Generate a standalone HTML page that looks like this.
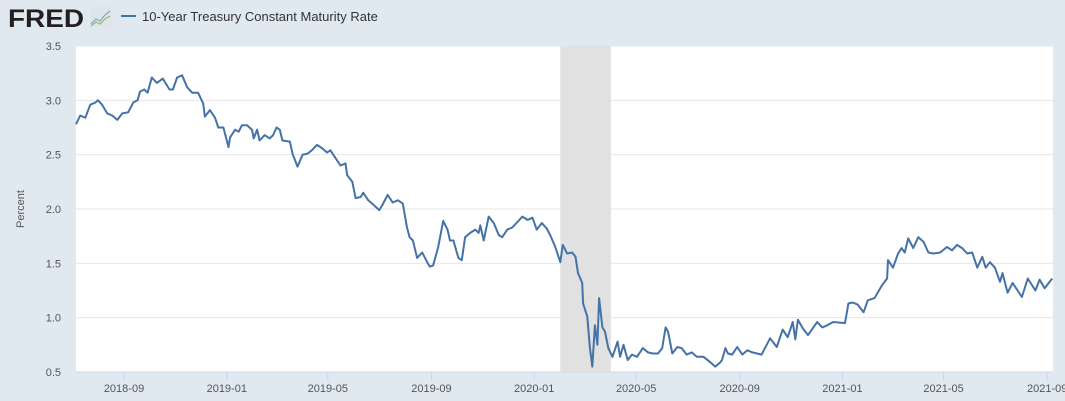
<!DOCTYPE html>
<html><head><meta charset="utf-8"><style>
body{margin:0;width:1065px;height:401px;background:#e1e9f0;overflow:hidden;font-family:"Liberation Sans",sans-serif}
svg{position:absolute;left:0;top:0}
</style></head><body>
<svg id="chart" width="1065" height="401">
<rect x="0" y="0" width="1065" height="401" fill="#e1e9f0"/>
<g>
<text x="8" y="27" font-size="25" font-weight="bold" fill="#231f20" font-family="Liberation Sans, sans-serif" textLength="76" lengthAdjust="spacingAndGlyphs">FRED</text>
<rect x="90" y="7" width="22" height="20" fill="#dfe4e8"/>
<polyline points="91,24 96,19 100,21 105,15 110,11" fill="none" stroke="#7aa6cf" stroke-width="1.2"/>
<polyline points="91,26 96,22 100,24 105,19 110,16" fill="none" stroke="#8dbf5a" stroke-width="1.2"/>
</g>
<g>
<line x1="121" y1="16" x2="136" y2="16" stroke="#4572a7" stroke-width="2"/>
<text x="142" y="21" font-size="13" fill="#333">10-Year Treasury Constant Maturity Rate</text>
</g>
<rect x="76" y="46" width="977" height="326" fill="#ffffff"/>
<g id="grid"></g><g id="rec"></g><g id="yt"></g><g id="xt"></g><g id="series"></g>
<text transform="translate(24,209) rotate(-90)" text-anchor="middle" font-size="11" fill="#555">Percent</text>
</svg>
<script>
const days=[0,5,11,17,23,26,31,37,43,49,55,62,68,73,76,81,85,90,96,103,111,115,120,126,132,138,145,151,153,159,165,169,175,181,183,189,193,197,203,209,211,215,218,224,230,234,238,242,245,254,257,263,269,275,280,286,292,298,302,308,314,320,322,328,332,338,341,347,353,360,364,370,376,382,388,393,396,400,405,411,417,420,424,430,436,441,444,448,454,458,462,468,474,478,480,484,490,496,502,506,512,518,524,530,536,542,547,553,559,563,569,575,578,583,589,593,596,601,602,607,610,613,616,619,621,625,628,632,637,643,646,650,655,660,666,673,679,685,691,696,700,703,708,714,719,725,731,737,745,753,759,765,767,771,774,779,785,791,797,803,814,824,832,839,845,851,854,857,863,869,880,886,892,899,913,917,922,928,935,940,948,957,963,964,970,976,980,984,988,994,1000,1006,1012,1018,1026,1034,1040,1046,1052,1058,1064,1070,1076,1080,1085,1091,1097,1100,1106,1112,1123,1130,1139,1144,1150,1159];
const rates=[2.78,2.86,2.84,2.96,2.98,3.0,2.96,2.88,2.86,2.82,2.88,2.89,2.98,3.0,3.08,3.1,3.07,3.21,3.16,3.2,3.1,3.1,3.21,3.23,3.12,3.07,3.07,2.97,2.85,2.91,2.84,2.75,2.75,2.57,2.66,2.73,2.71,2.77,2.77,2.73,2.65,2.73,2.63,2.68,2.65,2.68,2.75,2.73,2.63,2.62,2.51,2.39,2.5,2.51,2.54,2.59,2.56,2.52,2.54,2.47,2.4,2.42,2.31,2.25,2.1,2.11,2.15,2.08,2.04,1.99,2.04,2.13,2.06,2.08,2.05,1.83,1.74,1.71,1.55,1.6,1.51,1.47,1.48,1.65,1.89,1.81,1.71,1.71,1.55,1.53,1.74,1.78,1.81,1.78,1.85,1.71,1.93,1.87,1.76,1.74,1.81,1.83,1.88,1.93,1.9,1.92,1.81,1.87,1.82,1.76,1.65,1.51,1.67,1.59,1.6,1.56,1.41,1.32,1.13,1.01,0.73,0.55,0.93,0.75,1.18,0.91,0.87,0.72,0.64,0.78,0.64,0.75,0.61,0.66,0.64,0.72,0.68,0.67,0.67,0.72,0.91,0.87,0.67,0.73,0.72,0.66,0.68,0.64,0.64,0.59,0.55,0.59,0.61,0.72,0.67,0.66,0.73,0.66,0.7,0.68,0.66,0.81,0.73,0.89,0.82,0.96,0.8,0.98,0.9,0.84,0.96,0.91,0.93,0.96,0.95,1.13,1.14,1.12,1.05,1.16,1.18,1.3,1.36,1.53,1.46,1.59,1.64,1.6,1.73,1.64,1.74,1.7,1.6,1.59,1.6,1.65,1.62,1.67,1.64,1.59,1.6,1.46,1.56,1.46,1.51,1.46,1.33,1.41,1.23,1.32,1.19,1.36,1.25,1.35,1.27,1.36];
const yTicks=[0.5,1.0,1.5,2.0,2.5,3.0,3.5];
const xTickLabels=["2018-09","2019-01","2019-05","2019-09","2020-01","2020-05","2020-09","2021-01","2021-05","2021-09"];
const xTickDays=[57,179,299,422,544,665,788,910,1030,1153];
const recessionStart=575, recessionEnd=635;
const NS="http://www.w3.org/2000/svg";
function xS(d){return 76+d*0.8423;}
function yS(v){return 372-(v-0.5)*108.67;}
function mk(tag,attrs,parent){const e=document.createElementNS(NS,tag);for(const k in attrs)e.setAttribute(k,attrs[k]);document.getElementById(parent).appendChild(e);return e;}
const rr=mk('rect',{x:xS(recessionStart),y:46,width:xS(recessionEnd)-xS(recessionStart),height:326,fill:'#e1e1e1'},'rec');


yTicks.forEach(v=>{
 const g=mk('line',{x1:76,x2:1053,y1:yS(v),y2:yS(v),stroke:v===0.5?'#ccd6eb':'#e6e6e6','stroke-width':1},'grid');
 
 
 const t=mk('text',{x:61,y:yS(v)+4,'text-anchor':'end','font-size':11,fill:'#555'},'yt');
 t.textContent=v.toFixed(1);
 
 
});
xTickDays.forEach((d,i)=>{
 const l=mk('line',{x1:xS(d),x2:xS(d),y1:372,y2:381,stroke:'#ccd6eb','stroke-width':1},'xt');
 
 
 const t=mk('text',{x:xS(d),y:392,'text-anchor':'middle','font-size':11,fill:'#555'},'xt');
 t.textContent=xTickLabels[i];
 
 
});
const pts=days.map((d,i)=>xS(d).toFixed(1)+','+yS(rates[i]).toFixed(1)).join(' ');
const pl=mk('polyline',{points:pts,fill:'none',stroke:'#4572a7','stroke-width':2,'stroke-linejoin':'round'},'series');


</script>
</body></html>
